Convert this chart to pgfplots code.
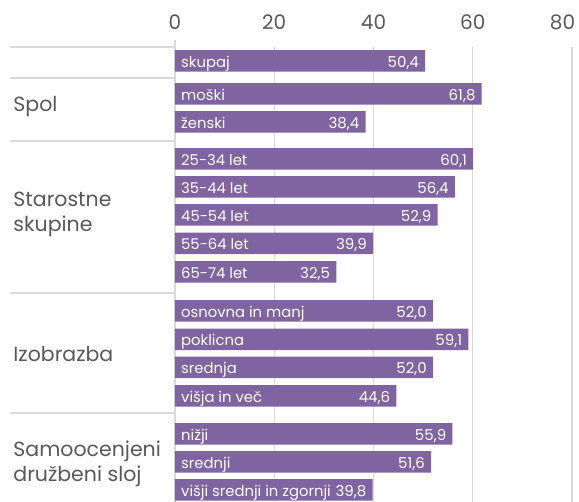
\documentclass[border=0pt]{standalone}
\usepackage{fontspec}
\setmainfont{Poppins}
\usepackage{pgfplots}
\usepackage{pgfplotstable}
\pgfplotsset{compat=1.18}
\definecolor{barc}{HTML}{8064A2}
\definecolor{gridc}{HTML}{D9D9D9}
\definecolor{txt}{HTML}{595959}

\pgfplotstableread[col sep=comma]{
y,val,zero,name
61,50.4,0,skupaj
94,61.8,0,moški
122,38.4,0,ženski
159,60.1,0,25-34 let
187,56.4,0,35-44 let
215,52.9,0,45-54 let
243.5,39.9,0,55-64 let
272,32.5,0,65-74 let
311,52.0,0,osnovna in manj
339.5,59.1,0,poklicna
367.5,52.0,0,srednja
396,44.6,0,višja in več
434,55.9,0,nižji
462,51.6,0,srednji
490,39.8,0,višji srednji in zgornji
}\datatable

\begin{document}
\begin{tikzpicture}
\path[use as bounding box] (0,0) rectangle (579pt,502pt);
\begin{axis}[
  at={(175pt,0pt)}, anchor=south west,
  scale only axis, width=397pt, height=455pt,
  xmin=0, xmax=80, ymin=47, ymax=502, y dir=reverse,
  /pgf/number format/assume math mode=true,
  axis line style={draw=none},
  xtick={0,20,40,60,80}, ytick=\empty,
  xticklabels={0,20,40,60,{\makebox[0pt]{\hspace*{-19pt}80}}},
  xticklabel pos=upper,
  major tick length=0pt,
  xmajorgrids, grid style={gridc, line width=1.4pt},
  xticklabel style={font=\fontsize{20}{24}\selectfont, text=txt, anchor=base, inner sep=0pt, yshift=17.5pt},
  clip=false,
]
\draw[gridc, line width=1.4pt] (axis cs:0,40) -- (axis cs:0,502);
\foreach \s in {47,78,141,293,413}{
  \edef\tmp{\noexpand\draw[gridc, line width=1.4pt] (axis cs:-33.25,\s) -- (axis cs:0,\s);}\tmp
}
\addplot[xbar, fill=barc, draw=none, bar width=21.5, point meta=x,
  nodes near coords={\pgfmathprintnumber[fixed,fixed zerofill,precision=1,use comma,assume math mode=true]{\pgfplotspointmeta}},
  nodes near coords style={anchor=base east, inner sep=0pt, xshift=-6pt, yshift=-6.5pt, text=white, font=\fontsize{15}{18}\selectfont}]
  table[x=val, y=y]{\datatable};
\addplot[only marks, mark=*, mark size=0pt, mark options={draw=none, fill=none},
  point meta=explicit symbolic, nodes near coords,
  nodes near coords style={anchor=base west, inner sep=0pt, xshift=6pt, yshift=-6.5pt, text=white, font=\fontsize{14.8}{18}\selectfont}]
  table[x=zero, y=y, meta=name]{\datatable};
\begin{scope}[every node/.style={anchor=base west, inner sep=0pt, text=txt, font=\fontsize{20.5}{24}\selectfont}]
\node at (axis cs:-32.6,112) {Spol};
\node at (axis cs:-32.6,207) {Starostne};
\node at (axis cs:-32.6,231.5) {skupine};
\node at (axis cs:-32.6,361.5) {Izobrazba};
\node at (axis cs:-32.6,457) {Samoocenjeni};
\node at (axis cs:-32.6,481.5) {družbeni sloj};
\end{scope}
\end{axis}
\end{tikzpicture}
\end{document}
